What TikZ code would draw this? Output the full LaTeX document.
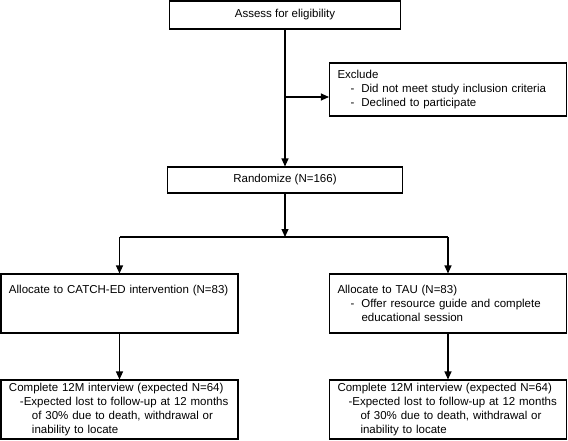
\documentclass[tikz,border=0pt]{standalone}
\usepackage{fontspec}
\setmainfont{Liberation Sans}
\usetikzlibrary{arrows.meta}
\newcommand{\itm}[1]{\hspace*{13pt}-\hspace*{7pt}#1}
\newcommand{\cont}[1]{\hspace*{24pt}#1}

\begin{document}
\begin{tikzpicture}[x=1pt,y=-1pt,
    box/.style={draw,line width=1.1pt,inner xsep=8pt,inner ysep=3pt,
      font=\fontsize{11.5}{14}\selectfont},
    listbox/.style={box,align=left,text width=221pt},
    arr/.style={-{Triangle[length=8pt,width=7pt]},line width=1.1pt}]
  \useasboundingbox (0,0) rectangle (568,440);
  \def\armL{119.5}
  \def\armR{448}
  \node[box,minimum width=231pt,minimum height=28pt] (assess) at (285,15) {Assess for eligibility};
  \node[listbox,minimum height=53pt] (exclude) at (\armR,89.5)
    {Exclude\\\itm{Did not meet study inclusion criteria}\\\itm{Declined to participate}};
  \node[box,minimum width=235pt,minimum height=26pt] (randomize) at (285,180) {Randomize (N=166)};
  \node[listbox,minimum height=59pt] (allocL) at (\armL,303.5)
    {Allocate to CATCH-ED intervention (N=83)\\\mbox{}\\\mbox{}};
  \node[listbox,minimum height=59pt] (allocR) at (\armR,303.5)
    {Allocate to TAU (N=83)\\\itm{Offer resource guide and complete}\\\cont{educational session}};
  \foreach \c/\xc in {L/\armL,R/\armR}{
    \node[listbox,minimum height=59pt,inner ysep=2pt] (done\c) at (\xc,409.5)
      {Complete 12M interview (expected N=64)\\\hspace*{11pt}-Expected lost to follow-up at 12 months\\
       \hspace*{23pt}of 30\% due to death, withdrawal or\\\hspace*{23pt}inability to locate};
  }
  % trunk and exclusion
  \coordinate (exc) at (285,97);
  \coordinate (split) at (285,237);
  \draw[arr] (assess) -- (randomize);
  \draw[arr] (exc) -- (exc -| exclude.west);
  % fork to the two arms
  \draw[arr] (randomize) -- (split);
  \draw[line width=1.1pt] (allocL.north |- split) -- (allocR.north |- split);
  \foreach \c in {L,R}{
    \draw[arr] (alloc\c.north |- split) -- (alloc\c.north);
    \draw[arr] (alloc\c) -- (done\c);
  }
\end{tikzpicture}
\end{document}
